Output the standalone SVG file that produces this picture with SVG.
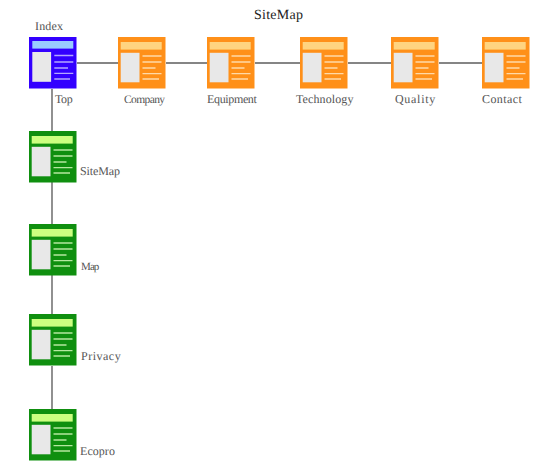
<svg xmlns="http://www.w3.org/2000/svg" width="544" height="470" viewBox="0 0 544 470">
<style>
text{font-family:"Liberation Serif",serif;font-size:12px;fill:#555;text-rendering:geometricPrecision}
.title{font-size:14px;fill:#222}
.conn{stroke:#858585;stroke-width:1.800;fill:none}
.panel{fill:#e8e8e8}
.orange{--bg:#ff9019;--bar:#ffd480;--ln:#ffd9a8}
.green{--bg:#0f8f0f;--bar:#ccff80;--ln:#b5e8a0}
.blue{--bg:#3300ff;--bar:#99ccff;--ln:#b3a6ff}
.bg{fill:var(--bg)}.bar{fill:var(--bar)}
.ln{stroke:var(--ln);stroke-width:1.300;fill:none}
</style>
<defs>
<g id="page">
<rect class="bg" width="47.500" height="51.500"/>
<rect class="bar" x="2.700" y="5" width="41" height="7.600"/>
<rect class="panel" x="2.700" y="15.800" width="18.800" height="29.500"/>
<path class="ln" d="M24.500 19H43.500M24.500 25H43.500M24.500 31H37.500M24.500 36.700H43.500M24.500 42H41"/>
</g>
<g id="page-top">
<rect class="bg" width="47.500" height="51.500"/>
<rect class="bar" x="3.300" y="4" width="41" height="7.600"/>
<rect class="panel" x="3.300" y="15" width="18.800" height="29.800"/>
<path class="ln" d="M25.300 18.500H44.300M25.300 25H44.300M25.300 31H39M25.300 36.300H44.300M25.300 42H41"/>
</g>
</defs>
<g id="connectors">
<path class="conn" d="M77 63H118M166 63H207M255 63H300M348 63H391M439 63H482M52 89V131M52 182V224M52 275V314M52 366V409"/>
</g>
<text class="title" x="254" y="19" letter-spacing=".25">SiteMap</text>
<g id="index" class="blue"><use href="#page-top" x="29" y="37"/><text x="35" y="30" letter-spacing=".15">Index</text></g>
<text x="55" y="103" letter-spacing="-.4">Top</text>
<g id="company" class="orange"><use href="#page" x="118" y="37"/><text x="124" y="103" style="font-size:11.500px" letter-spacing="-.6">Company</text></g>
<g id="equipment" class="orange"><use href="#page" x="207" y="37"/><text x="207" y="103" letter-spacing="-.35">Equipment</text></g>
<g id="technology" class="orange"><use href="#page" x="300" y="37"/><text x="296" y="103" letter-spacing=".1">Technology</text></g>
<g id="quality" class="orange"><use href="#page" x="391" y="37"/><text x="395" y="103" letter-spacing=".7">Quality</text></g>
<g id="contact" class="orange"><use href="#page" x="482" y="37"/><text x="482" y="103" letter-spacing=".4">Contact</text></g>
<g id="sitemap" class="green"><use href="#page" x="29" y="131"/><text x="80" y="175" letter-spacing="-.1">SiteMap</text></g>
<g id="map" class="green"><use href="#page" x="29" y="224"/><text x="81" y="270" style="font-size:11px" letter-spacing="-.9">Map</text></g>
<g id="privacy" class="green"><use href="#page" x="29" y="314"/><text x="81" y="360" letter-spacing=".5">Privacy</text></g>
<g id="ecopro" class="green"><use href="#page" x="29" y="409"/><text x="80" y="455" letter-spacing=".05">Ecopro</text></g>
</svg>
